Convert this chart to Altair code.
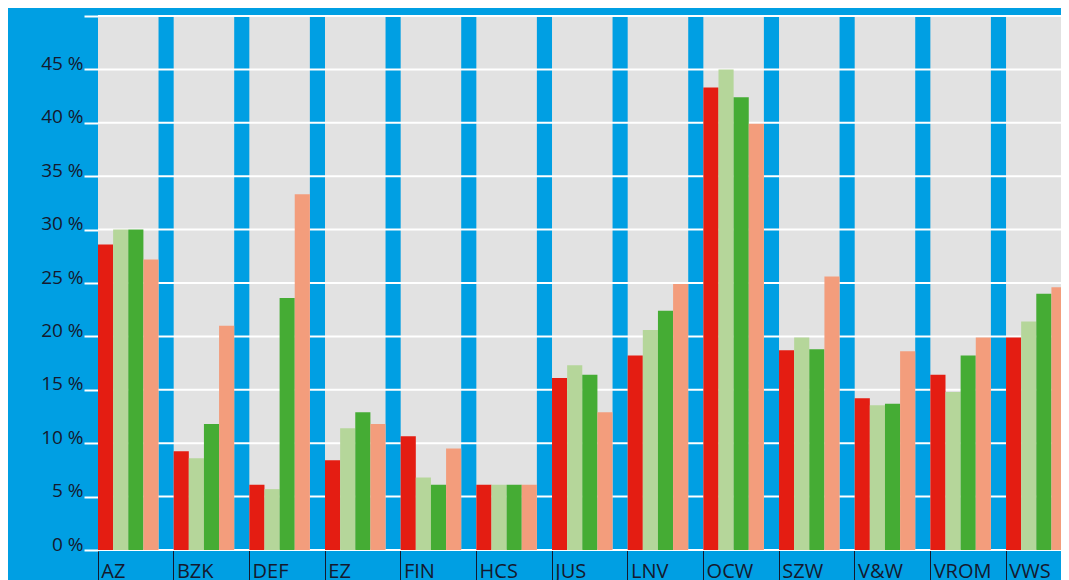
import altair as alt
import pandas as pd

categories = ["AZ", "BZK", "DEF", "EZ", "FIN", "HCS", "JUS", "LNV", "OCW", "SZW", "V&W", "VROM", "VWS"]
series = ["reeks 1", "reeks 2", "reeks 3", "reeks 4"]
series_colors = ["#e41d12", "#b5d69a", "#45ac34", "#f39d7c"]

red = [28.6, 9.25, 6.1, 8.4, 10.65, 6.1, 16.1, 18.2, 43.3, 18.7, 14.2, 16.4, 19.9]
light_green = [30.0, 8.6, 5.7, 11.4, 6.8, 6.1, 17.3, 20.6, 45.0, 19.9, 13.55, 14.8, 21.4]
green = [30.0, 11.8, 23.6, 12.9, 6.1, 6.1, 16.4, 22.4, 42.4, 18.8, 13.7, 18.2, 24.0]
salmon = [27.2, 21.0, 33.3, 11.8, 9.5, 6.1, 12.9, 24.9, 39.9, 25.6, 18.6, 19.9, 24.6]

y_ticks = [0, 5, 10, 15, 20, 25, 30, 35, 40, 45, 50]
y_max = 50

BLUE = "#009fe3"
GRAY = "#e2e2e2"
TEXT = "#15192e"
FONT = "Open Sans"

rows = []
for s, vals in zip(series, [red, light_green, green, salmon]):
    for c, v in zip(categories, vals):
        rows.append({"category": c, "series": s, "value": v})
df = pd.DataFrame(rows)
bg = pd.DataFrame({"category": categories, "top": [y_max] * len(categories)})
grid = pd.DataFrame({"v": y_ticks})

x_scale = alt.Scale(domain=categories, range=[0, 983.7], paddingInner=0.2,
                    paddingOuter=0.1, align=0)
x_axis = alt.Axis(title=None, bandPosition=0, domain=False, grid=False,
                  ticks=True, tickSize=40, tickColor=TEXT, tickWidth=1,
                  labelAngle=0, labelAlign="left", labelBaseline="top",
                  labelPadding=-29, labelOffset=-27, labelFont=FONT,
                  labelFontSize=20, labelColor=TEXT, labelOverlap=False,
                  labelFlush=False)
y_scale = alt.Scale(domain=[0, y_max], nice=False, zero=True)
y_axis = alt.Axis(title=None, values=y_ticks, domain=False, grid=False,
                  ticks=True, tickSize=14, tickColor="white", tickWidth=2,
                  labelExpr="datum.value == 50 ? '' : datum.value + ' %'",
                  labelBaseline="alphabetic", labelPadding=1, labelFont=FONT,
                  labelFontSize=19, labelColor=TEXT)

x_enc = alt.X("category:N", sort=categories, scale=x_scale, axis=x_axis)

columns = alt.Chart(bg).mark_bar(color=GRAY).encode(
    x=x_enc,
    y=alt.Y("top:Q", scale=y_scale, axis=y_axis),
)

lines = alt.Chart(grid).mark_rule(color="white", strokeWidth=2).encode(
    y=alt.Y("v:Q", scale=y_scale, axis=y_axis),
)

bars = alt.Chart(df).mark_bar().encode(
    x=x_enc,
    xOffset=alt.XOffset("series:N", sort=series,
                        scale=alt.Scale(domain=series, paddingInner=0, paddingOuter=0)),
    y=alt.Y("value:Q", scale=y_scale, axis=y_axis),
    color=alt.Color("series:N", scale=alt.Scale(domain=series, range=series_colors),
                    legend=None),
)

chart = alt.layer(columns, lines, bars).properties(
    width=963,
    height=534,
    autosize=alt.AutoSizeParams(type="none"),
    padding={"left": 90, "top": 8, "right": 0, "bottom": 30},
    background=BLUE,
).configure_view(stroke=None)

chart.save("out.html", embed_options={"renderer": "svg", "actions": False})
